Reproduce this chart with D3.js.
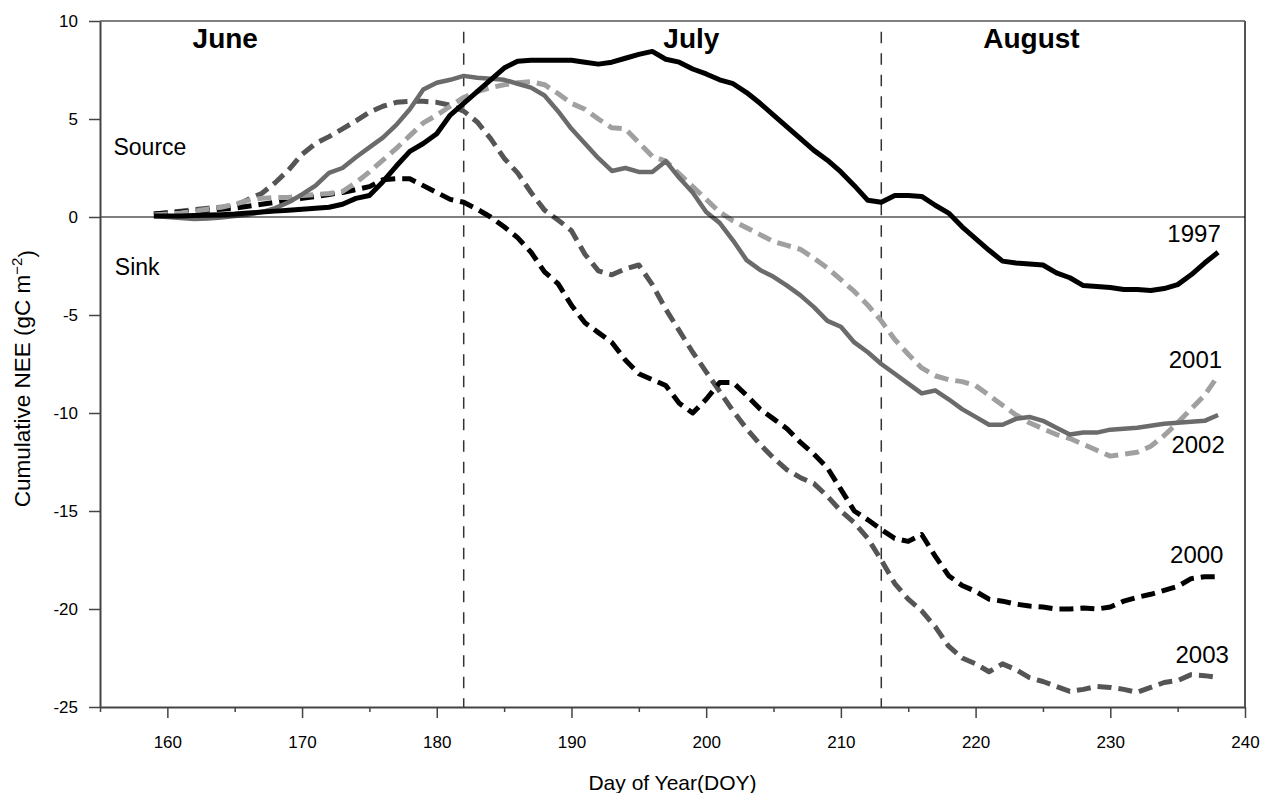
<!DOCTYPE html>
<html lang="en">
	<head>
		<meta charset="utf-8">
		<title>Cumulative NEE</title>
		<script type="text/javascript" src="https://cdn.jsdelivr.net/npm/d3@7"></script>
		<style type="text/css">
			body { margin: 0; background: #fff; }
			text { font-family: "Liberation Sans", Arial, sans-serif; }
		</style>
	</head>
	<body>
		<script type="text/javascript">
			var w = 1262;
			var h = 793;

			// day of year, 159 .. 238
			var days = [159,160,161,162,163,164,165,166,167,168,
				169,170,171,172,173,174,175,176,177,178,
				179,180,181,182,183,184,185,186,187,188,
				189,190,191,192,193,194,195,196,197,198,
				199,200,201,202,203,204,205,206,207,208,
				209,210,211,212,213,214,215,216,217,218,
				219,220,221,222,223,224,225,226,227,228,
				229,230,231,232,233,234,235,236,237,238];

			var nee1997 = [0.05,0.05,0.05,0.08,0.1,0.12,0.15,0.2,0.25,0.3,
				0.35,0.4,0.45,0.5,0.65,0.95,1.1,1.8,2.6,3.35,
				3.75,4.25,5.2,5.8,6.4,7.0,7.6,7.95,8.0,8.0,
				8.0,8.0,7.9,7.8,7.9,8.1,8.3,8.45,8.05,7.9,
				7.55,7.3,7.0,6.8,6.35,5.8,5.2,4.6,4.0,3.4,
				2.9,2.3,1.6,0.85,0.75,1.1,1.1,1.05,0.6,0.2,
				-0.5,-1.1,-1.7,-2.25,-2.35,-2.4,-2.45,-2.85,-3.1,-3.5,
				-3.55,-3.6,-3.7,-3.7,-3.75,-3.65,-3.45,-2.95,-2.35,-1.8];

			var nee2000 = [0.15,0.2,0.25,0.3,0.35,0.4,0.45,0.55,0.65,0.75,
				0.85,0.95,1.05,1.15,1.25,1.4,1.55,1.9,1.95,1.95,
				1.6,1.25,0.9,0.75,0.4,0.0,-0.5,-1.05,-1.8,-2.8,
				-3.4,-4.5,-5.4,-5.9,-6.4,-7.3,-8.0,-8.3,-8.6,-9.5,
				-10.0,-9.3,-8.45,-8.45,-9.1,-9.8,-10.3,-10.8,-11.5,-12.1,
				-12.8,-13.9,-15.0,-15.45,-15.95,-16.4,-16.55,-16.2,-17.3,-18.3,
				-18.8,-19.1,-19.5,-19.6,-19.75,-19.85,-19.9,-20.0,-20.0,-19.95,
				-20.0,-19.9,-19.6,-19.4,-19.25,-19.05,-18.85,-18.45,-18.35,-18.35];

			var nee2001 = [0.1,0.15,0.2,0.3,0.4,0.5,0.65,0.85,0.95,1.0,
				1.0,1.1,1.15,1.2,1.3,1.75,2.3,2.9,3.5,4.15,
				4.8,5.2,5.65,6.1,6.4,6.6,6.75,6.85,6.9,6.75,
				6.3,5.8,5.5,5.0,4.55,4.5,3.8,3.1,2.85,2.2,
				1.55,0.9,0.25,-0.2,-0.55,-0.9,-1.25,-1.45,-1.65,-2.1,
				-2.6,-3.2,-3.8,-4.5,-5.3,-6.25,-7.0,-7.7,-8.1,-8.3,
				-8.4,-8.6,-9.1,-9.6,-10.1,-10.5,-10.8,-11.1,-11.3,-11.6,
				-11.9,-12.2,-12.1,-12.0,-11.7,-11.15,-10.5,-9.8,-9.1,-8.1];

			var nee2002 = [0.05,0.0,-0.05,-0.1,-0.08,-0.02,0.05,0.12,0.25,0.45,
				0.75,1.15,1.6,2.25,2.5,3.05,3.55,4.05,4.7,5.5,
				6.5,6.85,7.0,7.2,7.1,7.05,7.0,6.8,6.6,6.2,
				5.4,4.5,3.75,3.0,2.35,2.5,2.3,2.3,2.85,2.0,
				1.25,0.25,-0.3,-1.2,-2.2,-2.7,-3.05,-3.5,-4.0,-4.6,
				-5.3,-5.6,-6.4,-6.9,-7.5,-8.0,-8.5,-9.0,-8.85,-9.3,
				-9.8,-10.2,-10.6,-10.6,-10.3,-10.2,-10.4,-10.75,-11.1,-11.0,
				-11.0,-10.85,-10.8,-10.75,-10.65,-10.55,-10.5,-10.45,-10.4,-10.1];

			var nee2003 = [0.15,0.22,0.3,0.38,0.45,0.5,0.55,0.9,1.2,1.75,
				2.4,3.2,3.75,4.1,4.5,4.9,5.35,5.65,5.85,5.9,
				5.9,5.85,5.7,5.4,4.85,4.0,3.0,2.25,1.25,0.35,
				-0.15,-0.7,-1.9,-2.75,-2.95,-2.65,-2.45,-3.45,-4.7,-5.8,
				-6.9,-7.9,-8.9,-9.9,-10.8,-11.6,-12.3,-12.9,-13.3,-13.6,
				-14.25,-15.0,-15.6,-16.4,-17.5,-18.7,-19.5,-20.1,-20.9,-21.9,
				-22.5,-22.8,-23.2,-22.8,-23.1,-23.5,-23.7,-23.95,-24.2,-24.1,
				-23.95,-24.0,-24.1,-24.25,-24.0,-23.75,-23.65,-23.35,-23.4,-23.5];

			var xMajorTicks = [160,170,180,190,200,210,220,230,240];
			var xMinorTicks = [155,165,175,185,195,205,215,225,235];
			var yTicks = [-25,-20,-15,-10,-5,0,5,10];

			// month boundaries (DOY) and month names
			var monthBreaks = [182, 213];
			var monthNames = ["June", "July", "August"];
			var monthCenters = [164.3, 198.9, 224.15];

			// series: name, values, stroke, width, dash
			var series = [
				{ name: "2003", values: nee2003, color: "#555555", width: 5, dash: "14,7", labelDoy: 238.8, labelNee: -22.74 },
				{ name: "2000", values: nee2000, color: "#000000", width: 5, dash: "14,7", labelDoy: 238.4, labelNee: -17.64 },
				{ name: "2001", values: nee2001, color: "#a0a0a0", width: 5, dash: "14,7", labelDoy: 238.3, labelNee: -7.69 },
				{ name: "2002", values: nee2002, color: "#6b6b6b", width: 4.5, dash: null, labelDoy: 238.5, labelNee: -12.03 },
				{ name: "1997", values: nee1997, color: "#000000", width: 5, dash: null, labelDoy: 238.2, labelNee: -1.26 }
			];

			var svg = d3.select("body")
				.append("svg")
				.attr("width", w)
				.attr("height", h);

			svg.append("rect")
				.attr("width", w)
				.attr("height", h)
				.attr("fill", "#fff");

			var x = d3.scaleLinear().domain([155, 240]).range([100, 1245]);
			var y = d3.scaleLinear().domain([-25, 10]).range([707, 21]);

			// frame top and right
			svg.append("line")
				.attr("x1", x(155)).attr("x2", x(240))
				.attr("y1", y(10)).attr("y2", y(10))
				.attr("stroke", "#555").attr("stroke-width", 1.5);
			svg.append("line")
				.attr("x1", x(240)).attr("x2", x(240))
				.attr("y1", y(10)).attr("y2", y(-25))
				.attr("stroke", "#555").attr("stroke-width", 2);

			// month dividers
			svg.selectAll("line.month")
				.data(monthBreaks)
				.enter()
				.append("line")
				.attr("class", "month")
				.attr("x1", function(d) { return x(d); })
				.attr("x2", function(d) { return x(d); })
				.attr("y1", y(9.45))
				.attr("y2", y(-25))
				.attr("stroke", "#333")
				.attr("stroke-width", 1.5)
				.attr("stroke-dasharray", "11.5,10");

			// series lines
			var line = d3.line()
				.x(function(d, i) { return x(days[i]); })
				.y(function(d) { return y(d); });

			svg.selectAll("path.series")
				.data(series)
				.enter()
				.append("path")
				.attr("class", "series")
				.attr("d", function(d) { return line(d.values); })
				.attr("fill", "none")
				.attr("stroke", function(d) { return d.color; })
				.attr("stroke-width", function(d) { return d.width; })
				.attr("stroke-linejoin", "round")
				.attr("stroke-dasharray", function(d) { return d.dash; });

			// zero line
			svg.append("line")
				.attr("x1", x(155)).attr("x2", x(240))
				.attr("y1", y(0)).attr("y2", y(0))
				.attr("stroke", "#000").attr("stroke-width", 1.2);

			// axes
			var plain = function(d) { return String(d); };
			svg.append("g")
				.attr("transform", "translate(0," + y(-25) + ")")
				.call(d3.axisBottom(x).tickValues(xMajorTicks).tickFormat(plain).tickSize(11).tickPadding(18).tickSizeOuter(0));
			svg.append("g")
				.attr("transform", "translate(0," + y(-25) + ")")
				.call(d3.axisBottom(x).tickValues(xMinorTicks).tickSize(5).tickFormat("").tickSizeOuter(0))
				.select(".domain").remove();
			svg.append("g")
				.attr("transform", "translate(" + x(155) + ",0)")
				.call(d3.axisLeft(y).tickValues(yTicks).tickFormat(plain).tickSize(11).tickPadding(11).tickSizeOuter(0));

			svg.selectAll(".tick line").attr("stroke", "#444").attr("stroke-width", 1.5);
			svg.selectAll(".domain").attr("stroke", "#444").attr("stroke-width", 2);
			svg.selectAll(".tick text")
				.attr("font-family", "Liberation Sans, Arial, sans-serif")
				.attr("font-size", "17px")
				.attr("fill", "#000");

			// axis titles
			svg.append("text")
				.attr("x", x(197.5))
				.attr("y", 790)
				.attr("text-anchor", "middle")
				.attr("font-size", "21px")
				.text("Day of Year(DOY)");

			var yt = svg.append("text")
				.attr("transform", "translate(30," + y(-8.25) + ") rotate(-90)")
				.attr("text-anchor", "middle")
				.attr("font-size", "22.5px");
			yt.append("tspan").text("Cumulative NEE (gC m");
			yt.append("tspan").attr("dy", "-0.55em").attr("font-size", "15px").text("\u22122");
			yt.append("tspan").attr("dy", "0.55em").text(")");

			// month labels
			svg.selectAll("text.monthName")
				.data(monthNames)
				.enter()
				.append("text")
				.attr("class", "monthName")
				.attr("x", function(d, i) { return x(monthCenters[i]); })
				.attr("y", y(8.64))
				.attr("text-anchor", "middle")
				.attr("font-size", "28px")
				.attr("font-weight", "bold")
				.text(function(d) { return d; });

			// source / sink
			svg.append("text")
				.attr("x", x(156.0)).attr("y", y(3.18))
				.attr("font-size", "23px")
				.text("Source");
			svg.append("text")
				.attr("x", x(156.1)).attr("y", y(-2.94))
				.attr("font-size", "23px")
				.text("Sink");

			// year labels
			svg.selectAll("text.year")
				.data(series)
				.enter()
				.append("text")
				.attr("class", "year")
				.attr("x", function(d) { return x(d.labelDoy); })
				.attr("y", function(d) { return y(d.labelNee); })
				.attr("text-anchor", "end")
				.attr("font-size", "24px")
				.text(function(d) { return d.name; });
		</script>
	</body>
</html>
